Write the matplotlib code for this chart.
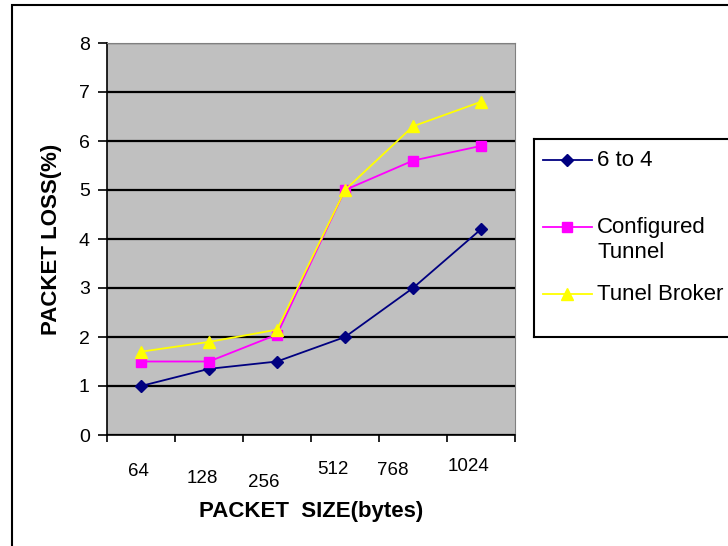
import matplotlib.pyplot as plt
from matplotlib.patches import Rectangle
from matplotlib.lines import Line2D

plt.rcParams['font.family'] = ['Liberation Sans', 'DejaVu Sans']

# packet sizes (categories) and packet loss per tunnel type
sizes = ["64", "128", "256", "512", "768", "1024"]
six_to_four = [1.0, 1.35, 1.5, 2.0, 3.0, 4.2]
configured = [1.5, 1.5, 2.05, 5.0, 5.6, 5.9]
broker = [1.7, 1.9, 2.15, 5.0, 6.3, 6.8]

series_names = ["6 to 4", "Configured\nTunnel", "Tunel Broker"]
series_colors = ['#000080', '#ff00ff', '#ffff00']
series_markers = ['D', 's', '^']
series_msize = [6, 7, 8]

# staggered label offsets (x in category units, y in points)
lab_dx = [-0.04, -0.1, -0.2, -0.18, -0.3, -0.19]
lab_dy = [-26.5, -31.5, -34.5, -24.5, -25.5, -23]

fig = plt.figure(figsize=(7.28, 5.46), dpi=100)
fig.patches.append(Rectangle((12 / 728, -0.1), 1.2, 1 - 5 / 546 + 0.1,
                             transform=fig.transFigure, fill=False,
                             edgecolor='black', linewidth=1.5))

ax = fig.add_axes([107 / 728, 1 - 435 / 546, 408 / 728, 392 / 546])
ax.set_facecolor('#c0c0c0')

x = list(range(len(sizes)))
for ys, name, c, m, ms in zip([six_to_four, configured, broker], series_names,
                              series_colors, series_markers, series_msize):
    ax.plot(x, ys, color=c, marker=m, markersize=ms, linewidth=1.3, label=name)

ax.set_xlim(-0.5, len(sizes) - 0.5)
ax.set_ylim(0, 8)
ax.set_yticks(range(0, 9))
ax.set_xticks([i - 0.5 for i in range(len(sizes) + 1)])
ax.set_xticklabels([])
ax.yaxis.grid(True, color='black', linewidth=1.6)
ax.set_axisbelow(True)
ax.tick_params(axis='y', direction='out', length=6.5, width=1.2, labelsize=14, pad=6)
ax.tick_params(axis='x', direction='out', length=5, width=1.2)

for side in ['top', 'right']:
    ax.spines[side].set_color('#808080')
for side in ['left', 'bottom']:
    ax.spines[side].set_linewidth(1.2)

for i, s in enumerate(sizes):
    ax.annotate(s, (i + lab_dx[i], 0), xycoords=('data', 'axes fraction'),
                xytext=(0, lab_dy[i]), textcoords='offset points',
                ha='center', va='center', fontsize=13.5)

ax.set_xlabel('PACKET  SIZE(bytes)', fontsize=16, fontweight='bold', labelpad=39)
ax.set_ylabel('PACKET LOSS(%)', fontsize=16, fontweight='bold', labelpad=12)

# legend box drawn in its own pixel-unit axes
lax = fig.add_axes([534 / 728, 1 - 337 / 546, 240 / 728, 198 / 546])
lax.set_xlim(0, 240)
lax.set_ylim(198, 0)
lax.set_xticks([])
lax.set_yticks([])
lax.set_facecolor('white')
for sp in lax.spines.values():
    sp.set_linewidth(1.5)
    sp.set_color('black')
entry_y = [21, 88, 155]
for ey, name, c, m, ms in zip(entry_y, series_names, series_colors,
                              series_markers, series_msize):
    lax.add_line(Line2D([9, 58], [ey, ey], color=c, linewidth=1.3))
    lax.plot([33], [ey], marker=m, color=c, markersize=ms)
    lax.text(63, ey, name.split("\n")[0], va='center', ha='left', fontsize=16)
    if "\n" in name:
        lax.text(63, ey + 26, name.split("\n")[1], va='center', ha='left', fontsize=16)

fig.savefig('out.png', dpi=100)
